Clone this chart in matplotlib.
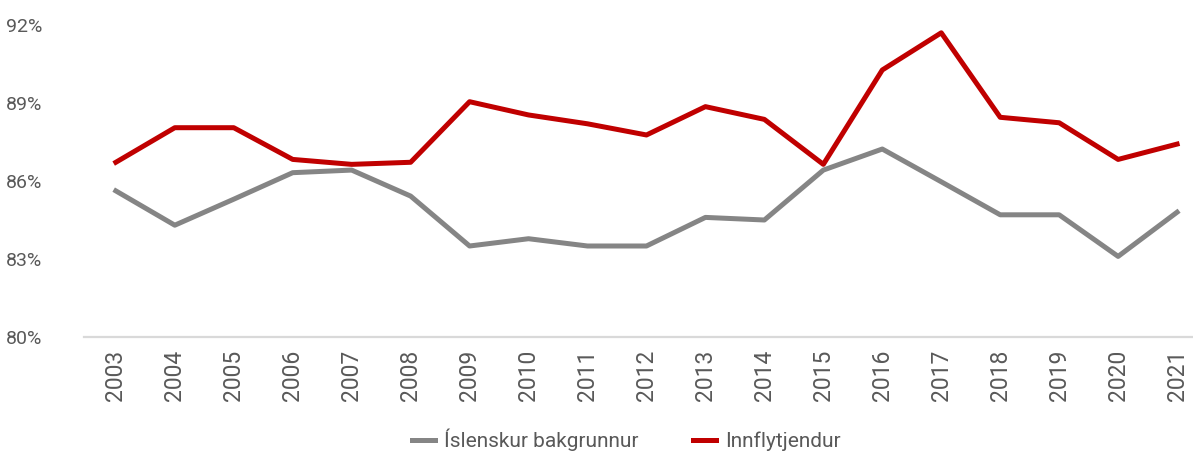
import numpy as np
import matplotlib
matplotlib.use("Agg")
import matplotlib.pyplot as plt

years = [str(y) for y in range(2003, 2022)]
islenskur = [85.62, 84.3, 85.3, 86.32, 86.42, 85.42, 83.5, 83.78, 83.5, 83.5,
             84.6, 84.5, 86.42, 87.23, 85.97, 84.7, 84.7, 83.1, 84.8]
innflytjendur = [86.72, 88.05, 88.05, 86.83, 86.64, 86.72, 89.05, 88.54, 88.2, 87.77,
                 88.86, 88.37, 86.64, 90.27, 91.7, 88.45, 88.24, 86.83, 87.42]
yticks = [80, 83, 86, 89, 92]

plt.rcParams["font.family"] = ["Roboto", "DejaVu Sans"]
txt = "#595959"

fig = plt.figure(figsize=(11.93, 4.53), dpi=100)
ax = fig.add_axes([84/1193, (453-337)/453, 1109/1193, 312/453])

x = np.arange(len(years))
ax.plot(x, islenskur, color="#858585", lw=3.6, label="Íslenskur bakgrunnur")
ax.plot(x, innflytjendur, color="#c00000", lw=3.6, label="Innflytjendur")

ax.set_xlim(-0.54, 18.27)
ax.set_ylim(80, 92)
ax.set_yticks(yticks)
ax.set_yticklabels([f"{v}%" for v in yticks], fontsize=14, color=txt)
ax.set_xticks(x)
ax.set_xticklabels(years, rotation=90, fontsize=16.5, color=txt)
ax.tick_params(axis="both", length=0)
ax.tick_params(axis="y", pad=30)
ax.tick_params(axis="x", pad=9)
for s in ["top", "right", "left"]:
    ax.spines[s].set_visible(False)
ax.spines["bottom"].set_color("#d9d9d9")
ax.spines["bottom"].set_linewidth(1.6)

leg = fig.legend(loc="center", bbox_to_anchor=(0.525, 13/453), ncol=2,
                 frameon=False, fontsize=15, handlelength=1.1, columnspacing=2.6,
                 handletextpad=0.45)
for t in leg.get_texts():
    t.set_color(txt)

fig.savefig("out.png", dpi=100)
